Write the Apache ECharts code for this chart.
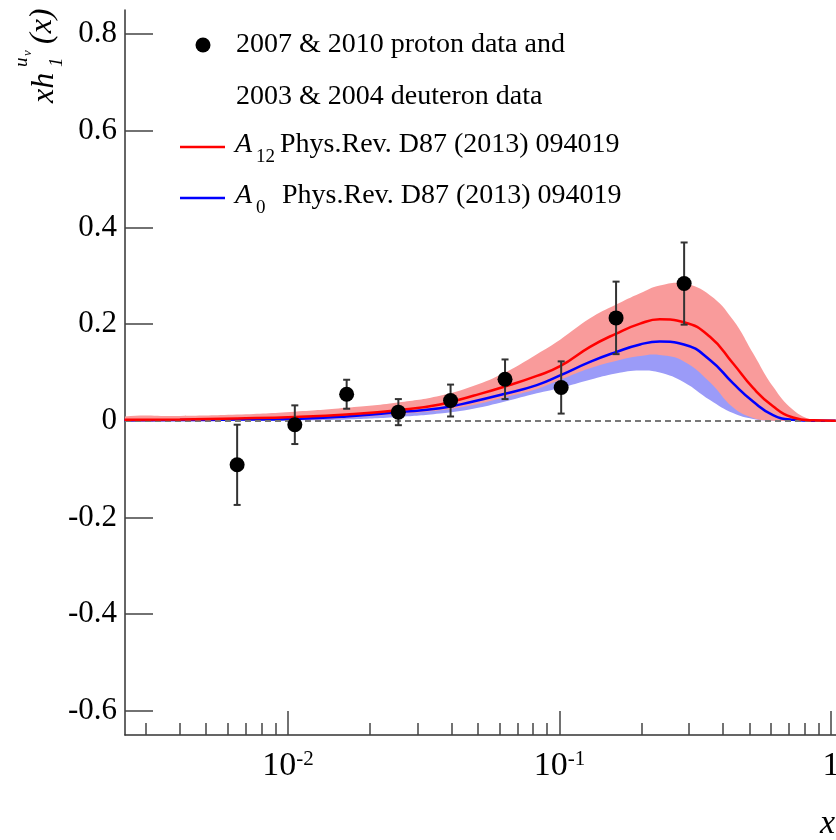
<!DOCTYPE html>
<html>
<head>
<meta charset="utf-8">
<script src="https://cdn.jsdelivr.net/npm/echarts@6/dist/echarts.min.js"></script>
<style>
html, body { margin: 0; padding: 0; background: #fff; }
#chart { width: 836px; height: 840px; }
</style>
</head>
<body>
<div id="chart"></div>
<script>
// x values of the model curves
var curveX = [0.0025, 0.004, 0.0065, 0.0106, 0.0164, 0.0254, 0.0363, 0.0481, 0.063, 0.0825, 0.1005,
  0.1295, 0.161, 0.198, 0.234, 0.287, 0.358, 0.435, 0.516, 0.611, 0.724, 0.859, 1.04];
// A12 central curve and its band
var a12 = [0.002, 0.003, 0.005, 0.008, 0.013, 0.022, 0.034, 0.052, 0.071, 0.093, 0.113,
  0.153, 0.180, 0.201, 0.210, 0.204, 0.174, 0.119, 0.068, 0.030, 0.007, 0.001, 0];
var a12Hi = [0.009, 0.010, 0.013, 0.019, 0.027, 0.038, 0.052, 0.072, 0.100, 0.138, 0.168,
  0.212, 0.240, 0.264, 0.280, 0.284, 0.260, 0.209, 0.140, 0.071, 0.023, 0.002, 0];
var a12Lo = [-0.001, 0, 0.001, 0.002, 0.006, 0.014, 0.022, 0.033, 0.049, 0.066, 0.085,
  0.109, 0.124, 0.134, 0.136, 0.123, 0.080, 0.028, 0.006, 0, 0, 0, 0];
// A0 central curve and its band
var a0 = [0.001, 0.0015, 0.0025, 0.004, 0.009, 0.018, 0.026, 0.040, 0.056, 0.074, 0.094,
  0.122, 0.142, 0.158, 0.164, 0.158, 0.126, 0.078, 0.040, 0.012, 0.002, 0, 0];
var a0Hi = [0.004, 0.005, 0.007, 0.010, 0.016, 0.027, 0.036, 0.052, 0.070, 0.092, 0.115,
  0.150, 0.172, 0.190, 0.200, 0.195, 0.165, 0.110, 0.062, 0.025, 0.006, 0.001, 0];
var a0Lo = [-0.001, -0.001, 0, 0.001, 0.003, 0.008, 0.015, 0.025, 0.040, 0.057, 0.068,
  0.085, 0.098, 0.104, 0.100, 0.080, 0.043, 0.016, 0.004, 0, 0, 0, 0];

// measured points
var ptX = [0.0065, 0.0106, 0.01645, 0.0255, 0.0397, 0.063, 0.1014, 0.1615, 0.2876];
var ptY = [-0.091, -0.008, 0.055, 0.018, 0.042, 0.086, 0.069, 0.213, 0.284];
var ptErr = [0.083, 0.040, 0.030, 0.027, 0.033, 0.041, 0.054, 0.075, 0.085];

// axis ticks
var yTicks = [-0.6, -0.4, -0.2, 0, 0.2, 0.4, 0.6, 0.8];
var xMajor = [0.01, 0.1, 1];
var xMinor = [0.003, 0.004, 0.005, 0.006, 0.007, 0.008, 0.009,
  0.02, 0.03, 0.04, 0.05, 0.06, 0.07, 0.08, 0.09,
  0.2, 0.3, 0.4, 0.5, 0.6, 0.7, 0.8, 0.9];

var serif = '"Liberation Serif", "DejaVu Serif", serif';
var lg = function (v) { return Math.log10(v); };
var X_MIN = -2.6, X_MAX = 0.018, Y_MIN = -0.65, Y_MAX = 0.85;

function pairs(xs, ys) {
  var out = [];
  for (var i = 0; i < xs.length; i++) out.push([lg(xs[i]), ys[i]]);
  return out;
}

function bandSeries(hi, lo, color, z) {
  return {
    type: 'custom',
    z: z,
    silent: true,
    clip: true,
    data: [[lg(curveX[0]), 0]],
    renderItem: function (params, api) {
      var pts = [];
      for (var i = 0; i < curveX.length; i++) pts.push(api.coord([lg(curveX[i]), hi[i]]));
      for (var j = curveX.length - 1; j >= 0; j--) pts.push(api.coord([lg(curveX[j]), lo[j]]));
      return { type: 'polygon', shape: { points: pts, smooth: 0.45 }, style: { fill: color } };
    }
  };
}

var errData = [];
for (var i = 0; i < ptX.length; i++) errData.push([lg(ptX[i]), ptY[i], ptErr[i]]);

var myChart = echarts.init(document.getElementById('chart'));

var option = {
  animation: false,
  backgroundColor: '#fff',
  grid: [
    { left: 125, right: 0, top: 10, bottom: 105, outerBoundsMode: 'none', containLabel: false },
    { left: 125, right: 0, top: 10, bottom: 105, outerBoundsMode: 'none', containLabel: false }
  ],
  xAxis: [{
    type: 'value', gridIndex: 0, min: X_MIN, max: X_MAX,
    axisLine: { onZero: false, lineStyle: { color: '#333', width: 1.5 } },
    splitLine: { show: false },
    axisTick: { inside: true, length: 24, customValues: xMajor.map(lg), lineStyle: { color: '#444', width: 1.5 } },
    axisLabel: {
      customValues: xMajor.map(lg),
      margin: 14,
      color: '#000',
      formatter: function (v) {
        if (Math.abs(v) < 1e-9) return '{b|1}';
        return '{b|10}{s|' + Math.round(v) + '}';
      },
      rich: {
        b: { fontFamily: serif, fontSize: 34, color: '#000' },
        s: { fontFamily: serif, fontSize: 21, color: '#000', verticalAlign: 'top' }
      }
    }
  }, {
    type: 'value', gridIndex: 1, min: X_MIN, max: X_MAX,
    axisLine: { show: false, onZero: false },
    splitLine: { show: false },
    axisLabel: { show: false },
    axisTick: { inside: true, length: 12, customValues: xMinor.map(lg), lineStyle: { color: '#444', width: 1.5 } }
  }],
  yAxis: [{
    type: 'value', gridIndex: 0, min: Y_MIN, max: Y_MAX,
    axisLine: { show: true, onZero: false, lineStyle: { color: '#333', width: 1.5 } },
    splitLine: { show: false },
    axisTick: { show: true, inside: true, length: 28, customValues: yTicks, lineStyle: { color: '#444', width: 1.5 } },
    axisLabel: {
      customValues: yTicks,
      margin: 8,
      color: '#000',
      fontFamily: serif,
      fontSize: 31,
      formatter: function (v) { return Math.abs(v) < 1e-9 ? '0' : String(+v.toFixed(1)); }
    }
  }, {
    type: 'value', gridIndex: 1, min: Y_MIN, max: Y_MAX, show: false
  }],
  series: [
    bandSeries(a0Hi, a0Lo, '#9b9bf8', 1),
    bandSeries(a12Hi, a12Lo, '#f99b9b', 2),
    {
      name: 'A0', type: 'line', z: 4, smooth: 0.5, symbol: 'none',
      lineStyle: { color: '#0000ff', width: 2.5 },
      data: pairs(curveX, a0),
      markLine: {
        silent: true, symbol: 'none', label: { show: false },
        lineStyle: { color: '#777', type: [6, 4], width: 2 },
        data: [{ yAxis: 0 }]
      }
    },
    {
      name: 'A12', type: 'line', z: 5, smooth: 0.5, symbol: 'none',
      lineStyle: { color: '#ff0000', width: 2.5 },
      data: pairs(curveX, a12)
    },
    {
      type: 'custom', z: 6, silent: true,
      data: errData,
      renderItem: function (params, api) {
        var x = api.value(0), y = api.value(1), e = api.value(2);
        var top = api.coord([x, y + e]), bot = api.coord([x, y - e]);
        var w = 3.5, st = { stroke: '#333', lineWidth: 2 };
        return {
          type: 'group', children: [
            { type: 'line', shape: { x1: top[0], y1: top[1], x2: bot[0], y2: bot[1] }, style: st },
            { type: 'line', shape: { x1: top[0] - w, y1: top[1], x2: top[0] + w, y2: top[1] }, style: st },
            { type: 'line', shape: { x1: bot[0] - w, y1: bot[1], x2: bot[0] + w, y2: bot[1] }, style: st }
          ]
        };
      }
    },
    {
      name: 'data', type: 'scatter', z: 7, symbol: 'circle', symbolSize: 15,
      itemStyle: { color: '#000', opacity: 1 },
      data: pairs(ptX, ptY)
    }
  ],
  graphic: [
    // legend
    { type: 'circle', shape: { cx: 203, cy: 45, r: 7.5 }, style: { fill: '#000' } },
    { type: 'text', style: { x: 236, y: 45, text: '2007 & 2010 proton data and', font: '28px ' + serif, fill: '#000', verticalAlign: 'middle' } },
    { type: 'text', style: { x: 236, y: 97, text: '2003 & 2004 deuteron data', font: '28px ' + serif, fill: '#000', verticalAlign: 'middle' } },
    { type: 'line', shape: { x1: 180, y1: 147, x2: 225, y2: 147 }, style: { stroke: '#ff0000', lineWidth: 2.5 } },
    { type: 'text', style: { x: 235, y: 145, text: 'A', font: 'italic 28px ' + serif, fill: '#000', verticalAlign: 'middle' } },
    { type: 'text', style: { x: 256, y: 157, text: '12', font: '19px ' + serif, fill: '#000', verticalAlign: 'middle' } },
    { type: 'text', style: { x: 280, y: 145, text: 'Phys.Rev. D87 (2013) 094019', font: '28px ' + serif, fill: '#000', verticalAlign: 'middle' } },
    { type: 'line', shape: { x1: 180, y1: 198, x2: 225, y2: 198 }, style: { stroke: '#0000ff', lineWidth: 2.5 } },
    { type: 'text', style: { x: 235, y: 196, text: 'A', font: 'italic 28px ' + serif, fill: '#000', verticalAlign: 'middle' } },
    { type: 'text', style: { x: 256, y: 208, text: '0', font: '19px ' + serif, fill: '#000', verticalAlign: 'middle' } },
    { type: 'text', style: { x: 282, y: 196, text: 'Phys.Rev. D87 (2013) 094019', font: '28px ' + serif, fill: '#000', verticalAlign: 'middle' } },
    // y axis title, rotated
    {
      type: 'group', x: 55, y: 103, rotation: Math.PI / 2,
      children: [
        { type: 'text', style: { x: 0, y: -10, text: 'xh', font: 'italic 32px ' + serif, fill: '#000', verticalAlign: 'middle' } },
        { type: 'text', style: { x: 36, y: 2, text: '1', font: 'italic 19px ' + serif, fill: '#000', verticalAlign: 'middle' } },
        { type: 'text', style: { x: 36, y: -33, text: 'u', font: 'italic 19px ' + serif, fill: '#000', verticalAlign: 'middle' } },
        { type: 'text', style: { x: 47, y: -27, text: 'v', font: 'italic 13px ' + serif, fill: '#000', verticalAlign: 'middle' } },
        { type: 'text', style: { x: 59, y: -12, text: '(x)', font: 'italic 32px ' + serif, fill: '#000', verticalAlign: 'middle' } }
      ]
    },
    // x axis title
    { type: 'text', style: { x: 820, y: 824, text: 'x', font: 'italic 34px ' + serif, fill: '#000', verticalAlign: 'middle' } }
  ]
};

myChart.setOption(option);
</script>
</body>
</html>
